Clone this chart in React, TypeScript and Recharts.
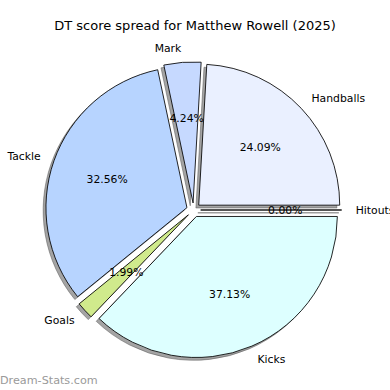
import { Cell, Pie, PieChart, Tooltip } from "recharts";

const categories = ["Handballs", "Mark", "Tackle", "Goals", "Kicks", "Hitouts"];
const shares = [24.09, 4.24, 32.56, 1.99, 37.13, 0];
const colors = ["#eaf0ff", "#c6d9ff", "#b7d4ff", "#d0ea8c", "#ddffff", "#f4f4ff"];
const title = "DT score spread for Matthew Rowell (2025)";

const data = categories.map((name, i) => ({ name, value: shares[i] }));

const FONT = "DejaVu Sans, sans-serif";
const EXPLODE = 0.05;
const RAD = Math.PI / 180;

// offset a point from the pie centre along an angle (recharts angles: ccw from 3 o'clock)
const polar = (cx: number, cy: number, r: number, a: number) => [cx + r * Math.cos(a * RAD), cy - r * Math.sin(a * RAD)];

function wedgePath(cx: number, cy: number, r: number, a1: number, a2: number) {
  const [x1, y1] = polar(cx, cy, r, a1);
  const [x2, y2] = polar(cx, cy, r, a2);
  const large = a2 - a1 > 180 ? 1 : 0;
  return `M${cx},${cy} L${x1},${y1} A${r},${r} 0 ${large} 0 ${x2},${y2} Z`;
}

function ExplodedWedge(props: any) {
  const { cx, cy, outerRadius, startAngle, endAngle, midAngle, fill } = props;
  const [ox, oy] = polar(cx, cy, outerRadius * EXPLODE, midAngle);
  const sh = outerRadius * 0.02;
  return (
    <g>
      <path d={wedgePath(ox - sh, oy + sh, outerRadius, startAngle, endAngle)} fill="#4a4a4a" fillOpacity={0.5} stroke="#4a4a4a" strokeOpacity={0.5} strokeWidth={0.9} />
      <path d={wedgePath(ox, oy, outerRadius, startAngle, endAngle)} fill={fill} stroke="#000" strokeWidth={0.85} strokeLinejoin="miter" />
    </g>
  );
}

function WedgeLabel(props: any) {
  const { cx, cy, outerRadius, midAngle, name, percent } = props;
  const r = outerRadius;
  const [nx, ny] = polar(cx, cy, r * (EXPLODE + 1.1), midAngle);
  const [px, py] = polar(cx, cy, r * (EXPLODE + 0.6), midAngle);
  const left = nx - cx > 0;
  return (
    <g>
      <text x={nx} y={ny} textAnchor={left ? "start" : "end"} dominantBaseline="central" fontSize={10.8} fontFamily={FONT} fill="#000">
        {name}
      </text>
      <text x={px} y={py} textAnchor="middle" dominantBaseline="central" fontSize={10.8} fontFamily={FONT} fill="#000">
        {`${(percent * 100).toFixed(2)}%`}
      </text>
    </g>
  );
}

export default function App() {
  return (
    <div style={{ position: "absolute", left: 0, top: 0, width: 390, height: 390, background: "#fff" }}>
      <PieChart width={390} height={390} margin={{ top: 0, right: 0, bottom: 0, left: 0 }}>
        <Pie
          data={data}
          dataKey="value"
          nameKey="name"
          cx={193.6}
          cy={210}
          outerRadius={141}
          startAngle={0}
          endAngle={360}
          shape={ExplodedWedge}
          activeShape={ExplodedWedge}
          inactiveShape={ExplodedWedge}
          label={WedgeLabel}
          labelLine={false}
          stroke="#000"
          isAnimationActive={false}
        >
          {data.map((d, i) => (
            <Cell key={d.name} fill={colors[i]} />
          ))}
        </Pie>
        <Tooltip defaultIndex={0} content={() => null} cursor={false} />
      </PieChart>
      <svg width={390} height={390} style={{ position: "absolute", left: 0, top: 0, pointerEvents: "none" }}>
        <text x={195} y={30} textAnchor="middle" fontSize={13} fontFamily={FONT} fill="#000">
          {title}
        </text>
        <text x={0} y={384} fontSize={11.2} fontFamily={FONT} fill="#9a9a9a">
          Dream-Stats.com
        </text>
      </svg>
    </div>
  );
}
